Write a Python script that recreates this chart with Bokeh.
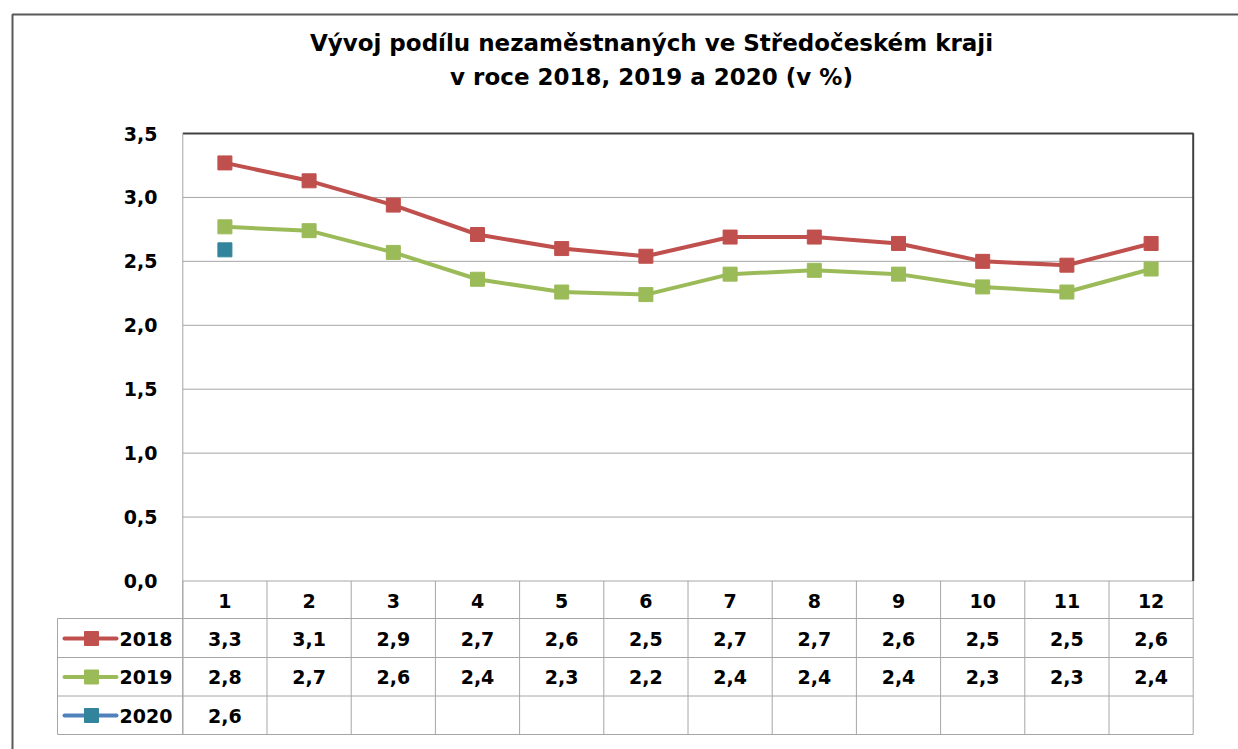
from bokeh.plotting import figure
from bokeh.embed import file_html
from bokeh.resources import INLINE
from bokeh.core.properties import value

# ---- data ----
months = list(range(1, 13))
month_labels = [str(m) for m in months]
series_names = ["2018", "2019", "2020"]
v2018 = [3.27, 3.13, 2.94, 2.71, 2.60, 2.54, 2.69, 2.69, 2.64, 2.50, 2.47, 2.64]
v2019 = [2.77, 2.74, 2.57, 2.36, 2.26, 2.24, 2.40, 2.43, 2.40, 2.30, 2.26, 2.44]
v2020 = [2.59]
y_ticks = [0.0, 0.5, 1.0, 1.5, 2.0, 2.5, 3.0, 3.5]
title_lines = ["Vývoj podílu nezaměstnaných ve Středočeském kraji",
               "v roce 2018, 2019 a 2020 (v %)"]

# ---- layout helpers (page pixel -> data coords) ----
ORIGIN = 0
W, H = 1238, 749
PLOT_L, PLOT_R = 182.3, 1192.7
COLW = (PLOT_R - PLOT_L) / 12
Y0, Y35 = 580.5, 133.0
PPU = (Y0 - Y35) / 3.5


def px(xp):
    return 0.5 + (xp - PLOT_L) / COLW


def py(yp):
    return (Y0 - yp) / PPU


p = figure(width=W, height=H, output_backend="svg", toolbar_location=None,
           x_range=(px(ORIGIN), px(ORIGIN + W)),
           y_range=(py(ORIGIN + H), py(ORIGIN)),
           x_axis_type=None, y_axis_type=None, min_border=0,
           outline_line_color=None, background_fill_color="white",
           border_fill_color="white")
p.grid.visible = False

FONT = value("DejaVu Sans")
GRID = "#A6A6A6"
DARK = "#404040"

# outer chart border (cropped at right/bottom)
p.line([px(12), px(12), px(1400)], [py(900), py(14), py(14)],
       line_color="#595959", line_width=2)

# gridlines
for t in y_ticks[1:-1]:
    p.line([0.5, 12.5], [t, t], line_color=GRID, line_width=1)
p.line([0.5, 12.5], [0, 0], line_color=GRID, line_width=1)
# plot area border
p.line([0.5, 12.5, 12.5], [3.5, 3.5, 0], line_color=DARK, line_width=2)
p.line([0.5, 0.5], [3.5, py(734)], line_color=GRID, line_width=1)

# y tick labels
p.text(x=[px(157)] * len(y_ticks), y=y_ticks,
       text=[f"{t:.1f}".replace(".", ",") for t in y_ticks],
       text_align="right", text_baseline="middle", text_font=FONT,
       text_font_style="bold", text_font_size="19px", text_color="black")

# title
p.text(x=[px(651), px(651)], y=[py(42), py(76)], text=title_lines,
       text_align="center", text_baseline="middle", text_font=FONT,
       text_font_style="bold", text_font_size="23px", text_color="black")

# series
colors = {"2018": "#C0504D", "2019": "#9BBB59", "2020": "#4F81BD"}
marker_colors = {"2018": "#C0504D", "2019": "#9BBB59", "2020": "#31849B"}
data = {"2018": v2018, "2019": v2019, "2020": v2020}
for name in series_names:
    vals = data[name]
    xs = months[:len(vals)]
    if len(vals) > 1:
        p.line(xs, vals, line_color=colors[name], line_width=4,
               line_join="round")
    p.scatter(xs, vals, marker="square", size=14,
              fill_color=marker_colors[name], line_color=marker_colors[name])

# ---- data table ----
row_lines = [618, 657, 695.5, 734]
row_centers = [638, 676.5, 715]
for k in range(13):
    xk = 0.5 + k
    p.line([xk, xk], [0, py(734)], line_color=GRID, line_width=1)
p.line([px(57), px(57)], [py(618), py(734)], line_color=GRID, line_width=1)
for r in row_lines:
    p.line([px(57), 12.5], [py(r), py(r)], line_color=GRID, line_width=1)

# header
p.text(x=months, y=[py(600)] * 12, text=month_labels, text_align="center",
       text_baseline="middle", text_font=FONT, text_font_style="bold",
       text_font_size="19px", text_color="black")

for name, yc in zip(series_names, row_centers):
    vals = data[name]
    p.line([px(64), px(116)], [py(yc), py(yc)], line_color=colors[name],
           line_width=4, line_cap="round")
    p.scatter([px(91)], [py(yc)], marker="square", size=14,
              fill_color=marker_colors[name], line_color=marker_colors[name])
    p.text(x=[px(119)], y=[py(yc)], text=[name], text_align="left",
           text_baseline="middle", text_font=FONT, text_font_style="bold",
           text_font_size="19px", text_color="black")
    p.text(x=months[:len(vals)], y=[py(yc)] * len(vals),
           text=[f"{v:.1f}".replace(".", ",") for v in vals],
           text_align="center", text_baseline="middle", text_font=FONT,
           text_font_style="bold", text_font_size="19px", text_color="black")

open("out.html", "w").write(file_html(p, INLINE))
